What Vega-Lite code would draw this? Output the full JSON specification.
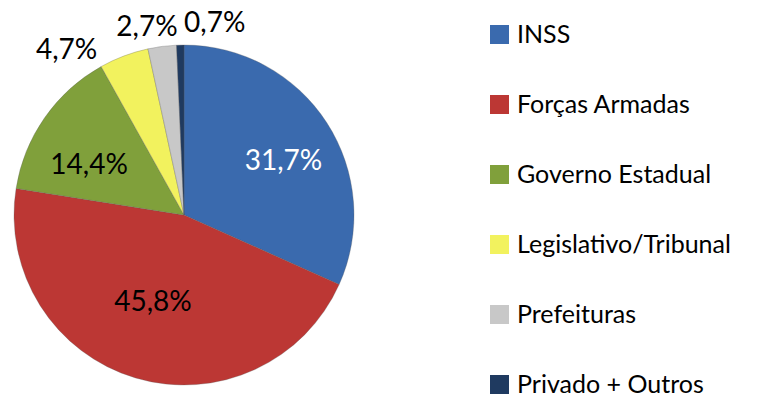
{
  "$schema": "https://vega.github.io/schema/vega-lite/v6.json",
  "width": 340,
  "height": 340,
  "autosize": {"type": "none"},
  "padding": {"left": 14, "top": 45, "right": 405, "bottom": 19},
  "background": "#ffffff",
  "data": {
    "values": [
      {"idx": 1, "cat": "INSS", "v": 31.7, "label": "31,7%"},
      {"idx": 2, "cat": "Forças Armadas", "v": 45.8, "label": "45,8%"},
      {"idx": 3, "cat": "Governo Estadual", "v": 14.4, "label": "14,4%"},
      {"idx": 4, "cat": "Legislativo/Tribunal", "v": 4.7, "label": "4,7%"},
      {"idx": 5, "cat": "Prefeituras", "v": 2.7, "label": "2,7%"},
      {"idx": 6, "cat": "Privado + Outros", "v": 0.7, "label": "0,7%"}
    ]
  },
  "encoding": {
    "theta": {"field": "v", "type": "quantitative", "stack": true},
    "order": {"field": "idx", "type": "quantitative"}
  },
  "layer": [
    {
      "mark": {"type": "arc", "stroke": "#5a5a5a", "strokeWidth": 0.6, "strokeOpacity": 0.5},
      "encoding": {
        "color": {
          "field": "cat",
          "type": "nominal",
          "sort": ["INSS", "Forças Armadas", "Governo Estadual", "Legislativo/Tribunal", "Prefeituras", "Privado + Outros"],
          "scale": {
            "domain": ["INSS", "Forças Armadas", "Governo Estadual", "Legislativo/Tribunal", "Prefeituras", "Privado + Outros"],
            "range": ["#3a6aae", "#bc3734", "#80a03b", "#f2f25e", "#c8c8c8", "#1f3a60"]
          },
          "legend": {
            "title": null,
            "orient": "none",
            "legendX": 473,
            "legendY": -23,
            "padding": 0,
            "symbolType": "square",
            "symbolSize": 361,
            "symbolStrokeWidth": 0,
            "labelFontSize": 25,
            "labelFont": "Lato",
            "labelColor": "#000000",
            "labelOffset": 5,
            "rowPadding": 44,
            "labelLimit": 400
          }
        }
      }
    },
    {
      "mark": {
        "type": "text",
        "font": "Lato",
        "fontSize": 28,
        "radius": {"expr": "datum.cat == 'INSS' ? 115 : datum.cat == 'Forças Armadas' ? 95 : datum.cat == 'Governo Estadual' ? 106 : datum.cat == 'Legislativo/Tribunal' ? 185 : 195"},
        "dx": {"expr": "datum.cat == 'INSS' ? 3 : datum.cat == 'Forças Armadas' ? -4 : datum.cat == 'Governo Estadual' ? -8 : datum.cat == 'Legislativo/Tribunal' ? -52 : datum.cat == 'Prefeituras' ? -12 : 35"},
        "dy": {"expr": "datum.cat == 'INSS' ? 10 : datum.cat == 'Forças Armadas' ? -3 : datum.cat == 'Governo Estadual' ? 12 : datum.cat == 'Legislativo/Tribunal' ? 9 : datum.cat == 'Prefeituras' ? 6 : 4"}
      },
      "encoding": {
        "text": {"field": "label", "type": "nominal"},
        "color": {
          "condition": {"test": "datum.cat == 'INSS'", "value": "#ffffff"},
          "value": "#000000"
        }
      }
    }
  ]
}
